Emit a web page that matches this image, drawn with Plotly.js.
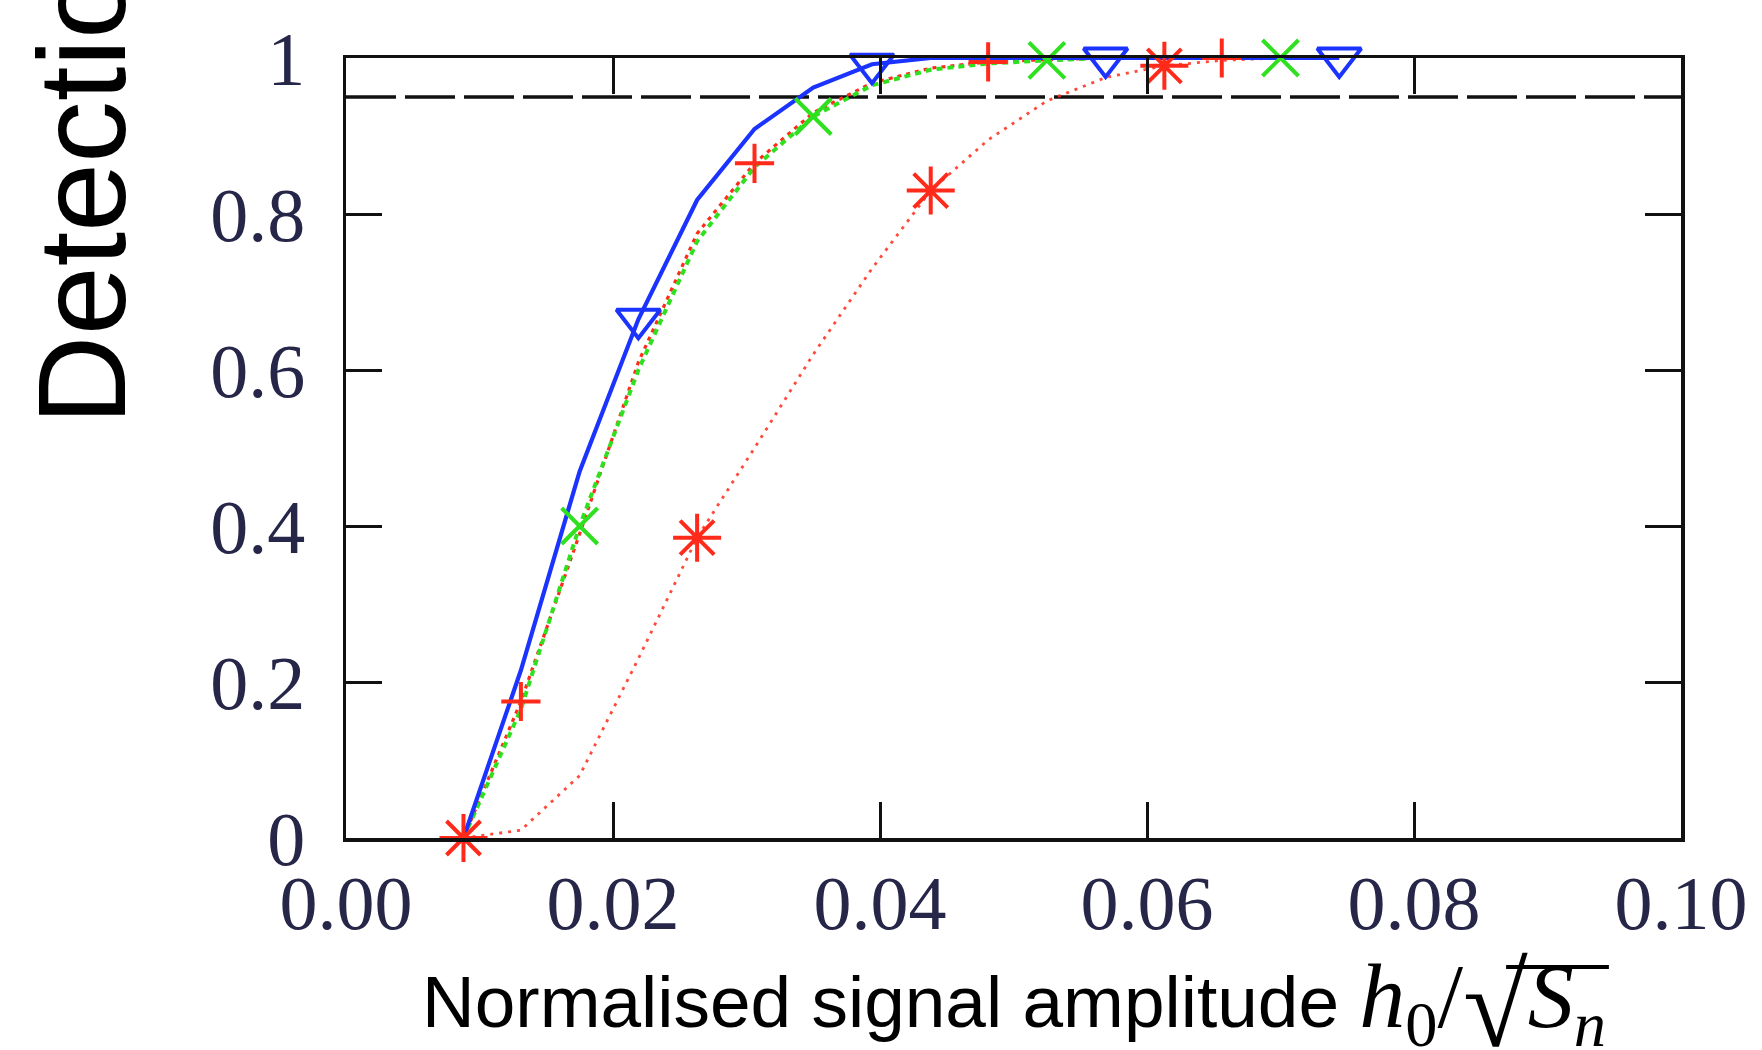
<!DOCTYPE html>
<html>
<head>
<meta charset="utf-8">
<script src="https://cdn.plot.ly/plotly-3.0.1.min.js"></script>
<style>
  html, body { margin: 0; padding: 0; background: #ffffff; }
  #chart { width: 1762px; height: 1050px; }
</style>
</head>
<body>
<div id="chart"></div>
<script>
// ---- data ----
const amplitude = [0.0088, 0.0131, 0.0175, 0.0219, 0.0263, 0.0306, 0.035, 0.0394,
                   0.0438, 0.0481, 0.0525, 0.0569, 0.0613, 0.0656, 0.07, 0.0744];
const seriesStar  = [0, 0.01, 0.08, 0.23, 0.385, 0.50, 0.62, 0.73, 0.83, 0.895, 0.945, 0.975, 0.99, 0.997, 1, 1];
const seriesPlus  = [0, 0.175, 0.39, 0.61, 0.775, 0.865, 0.93, 0.968, 0.987, 0.995, 0.998, 1, 1, 1, 1, 1];
const seriesCross = [0, 0.165, 0.40, 0.60, 0.765, 0.86, 0.925, 0.965, 0.985, 0.993, 0.997, 1, 1, 1, 1, 1];
const seriesTri   = [0, 0.215, 0.47, 0.665, 0.818, 0.909, 0.962, 0.992, 1, 1, 1, 1, 1, 1, 1, 1];
const threshold = 0.95;
const xTickVals = [0, 0.02, 0.04, 0.06, 0.08, 0.10];
const xTickText = ["0.00", "0.02", "0.04", "0.06", "0.08", "0.10"];
const yTickVals = [0, 0.2, 0.4, 0.6, 0.8, 1];
const yTickText = ["0", "0.2", "0.4", "0.6", "0.8", "1"];
const xRange = [0, 0.10];
const yRange = [0, 1];
const xTitle = 'Normalised signal amplitude <span style="font-family:Liberation Serif;font-size:92px"><i>h</i><sub>0</sub>/<sub><span style="font-size:118px">√</span></sub><i>S</i><sub><i>n</i></sub></span>';
const yTitle = 'Detection probability';

// ---- styling ----
const pointEvery = 4;
function pick(arr, offset) { return arr.filter((_, i) => i % pointEvery === offset); }

const RED = '#ff2a1a', GREEN = '#2fe01f', BLUE = '#1a33ff';
const curves = [
  { y: seriesStar,  off: 0, color: RED,   dash: '3px,6px', width: 2.8, sym: 'asterisk-open',      size: 40, opacity: 0.85 },
  { y: seriesPlus,  off: 1, color: RED,   dash: '4px,5px', width: 3.2, sym: 'cross-thin-open',    size: 28, opacity: 1 },
  { y: seriesCross, off: 2, color: GREEN, dash: '6px,5px', width: 4,   sym: 'x-thin-open',        size: 36, opacity: 1 },
  { y: seriesTri,   off: 3, color: BLUE,  dash: 'solid',   width: 4.2, sym: 'triangle-down-open', size: 38, opacity: 1 }
];

const traces = [{
  x: xRange, y: [threshold, threshold], mode: 'lines', hoverinfo: 'skip',
  line: { color: '#111111', width: 3.5, dash: '50px,9px' }, showlegend: false
}];
curves.forEach(c => {
  traces.push({
    x: amplitude, y: c.y, mode: 'lines', showlegend: false, opacity: c.opacity,
    line: { color: c.color, width: c.width, dash: c.dash }
  });
});
curves.forEach(c => {
  traces.push({
    x: pick(amplitude, c.off), y: pick(c.y, c.off), mode: 'markers', showlegend: false,
    cliponaxis: false,
    marker: { symbol: c.sym, size: c.size, color: c.color, line: { color: c.color, width: 4 } }
  });
});

const tickFont = { family: 'Liberation Serif, Times New Roman, serif', size: 76, color: '#262648' };
const layout = {
  width: 1762, height: 1050,
  margin: { l: 346, r: 81, t: 58, b: 212, pad: 0 },
  paper_bgcolor: '#ffffff', plot_bgcolor: '#ffffff',
  showlegend: false,
  xaxis: {
    range: xRange, tickvals: xTickVals, ticktext: xTickText,
    showgrid: false, zeroline: false,
    showline: true, mirror: 'ticks', linecolor: '#111111', linewidth: 3.5,
    ticks: 'inside', ticklen: 36, tickwidth: 3, tickcolor: '#111111',
    tickfont: tickFont, ticklabelstandoff: -4
  },
  yaxis: {
    range: yRange, tickvals: yTickVals, ticktext: yTickText,
    showgrid: false, zeroline: false,
    showline: true, mirror: 'ticks', linecolor: '#111111', linewidth: 3.5,
    ticks: 'inside', ticklen: 36, tickwidth: 3, tickcolor: '#111111',
    tickfont: tickFont, ticklabelstandoff: 22
  },
  shapes: [{
    type: 'line', xref: 'paper', yref: 'paper',
    x0: 0.869, x1: 0.946, y0: -0.1654, y1: -0.1654,
    line: { color: '#000000', width: 4 }
  }],
  annotations: [{
    text: yTitle, textangle: -90,
    xref: 'paper', yref: 'paper', x: -0.1978, y: 0.527,
    xanchor: 'center', yanchor: 'bottom', showarrow: false,
    font: { family: 'Liberation Sans, Arial, sans-serif', size: 124, color: '#000000' }
  }, {
    text: xTitle,
    xref: 'paper', yref: 'paper', x: 0.5, y: -0.2154,
    xanchor: 'center', yanchor: 'middle', showarrow: false,
    font: { family: 'Liberation Sans, Arial, sans-serif', size: 73, color: '#000000' }
  }]
};

Plotly.newPlot('chart', traces, layout, { displayModeBar: false, staticPlot: true });
</script>
</body>
</html>
